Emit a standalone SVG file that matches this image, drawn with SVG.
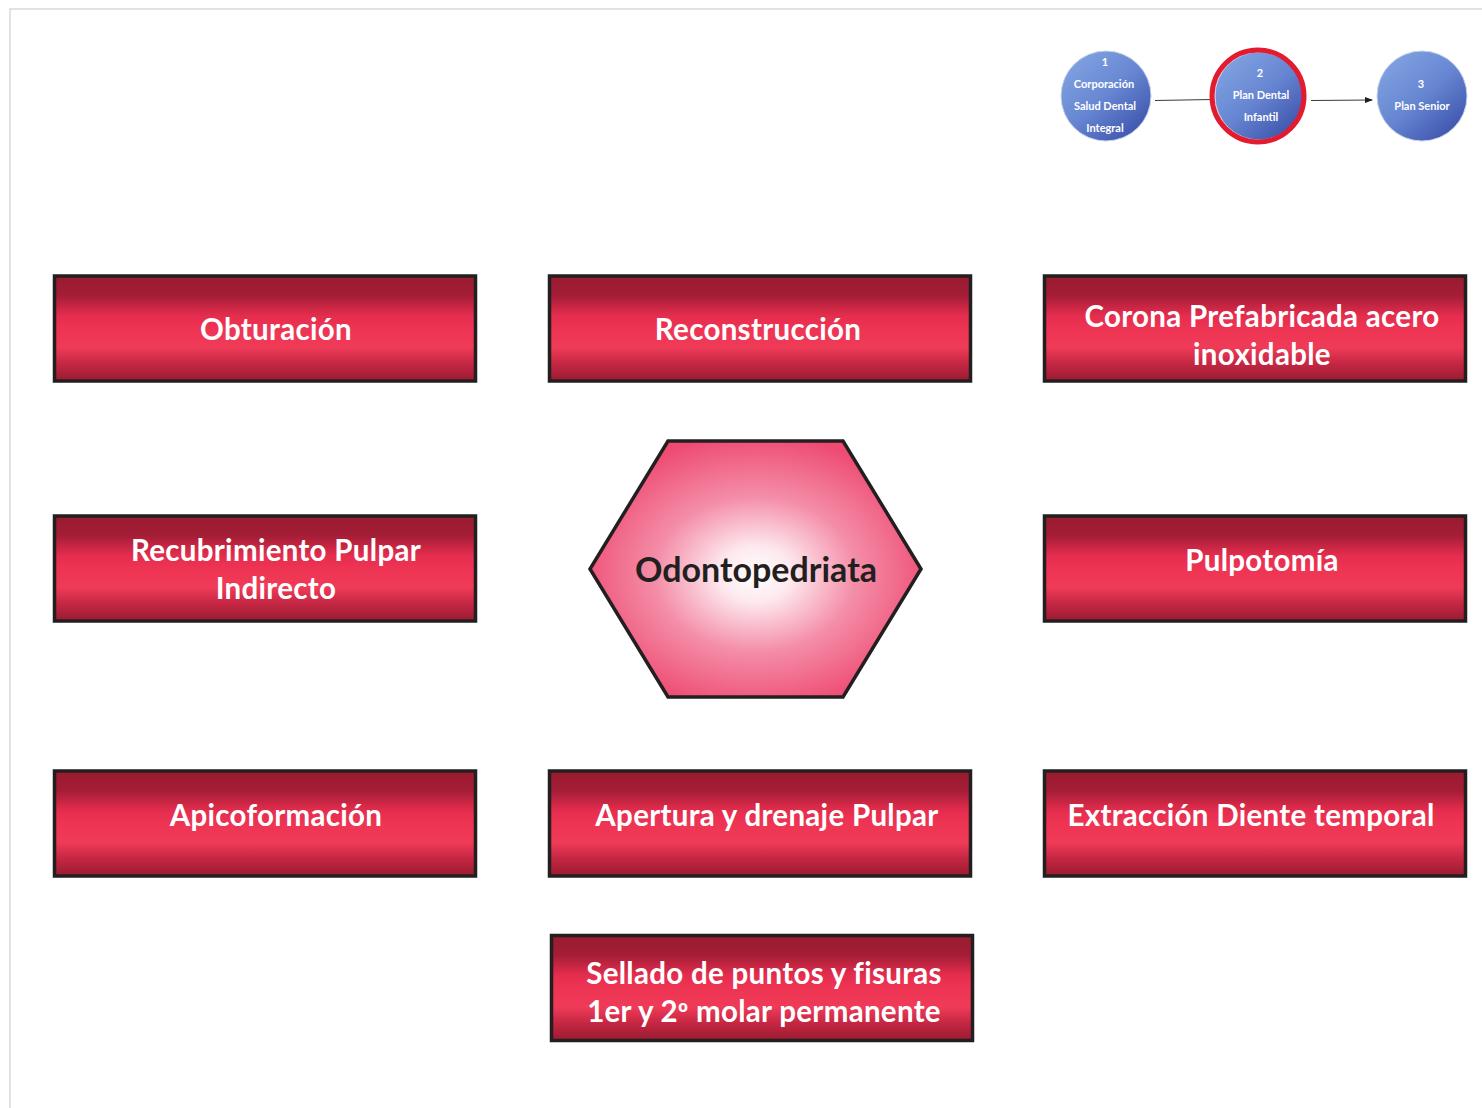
<svg xmlns="http://www.w3.org/2000/svg" width="1482" height="1108" viewBox="0 0 1482 1108">
<defs>
<linearGradient id="boxGrad" x1="0" y1="0" x2="0" y2="1">
<stop offset="0" stop-color="#9a1b30"/>
<stop offset="0.18" stop-color="#a21d35"/>
<stop offset="0.38" stop-color="#e52d4e"/>
<stop offset="0.5" stop-color="#ee3453"/>
<stop offset="0.68" stop-color="#ef3b58"/>
<stop offset="0.84" stop-color="#c32642"/>
<stop offset="1" stop-color="#9a1b30"/>
</linearGradient>
<radialGradient id="hexGrad" cx="0.5" cy="0.52" r="0.55">
<stop offset="0" stop-color="#ffffff"/>
<stop offset="0.2" stop-color="#fde8ee"/>
<stop offset="0.55" stop-color="#f48ea8"/>
<stop offset="1" stop-color="#ee4a72"/>
</radialGradient>
<linearGradient id="circGrad" x1="0.15" y1="0.1" x2="0.85" y2="0.9">
<stop offset="0" stop-color="#7fa0e0"/>
<stop offset="0.5" stop-color="#6786d2"/>
<stop offset="1" stop-color="#3f56ae"/>
</linearGradient>
<marker id="arrow" markerWidth="8" markerHeight="6" refX="7" refY="3" orient="auto" markerUnits="userSpaceOnUse">
<path d="M0,0 L8,3 L0,6 z" fill="#231f20"/>
</marker>
</defs>
<style>
.box{fill:url(#boxGrad);stroke:#231f20;stroke-width:3.5}
.bt{font-family:Lato,"Open Sans",sans-serif;font-weight:bold;font-size:29.5px;fill:#ffffff;text-anchor:middle;font-variant-ligatures:none;letter-spacing:0.3px}
.ct{font-family:Lato,"Open Sans",sans-serif;font-weight:bold;font-size:11px;fill:#ffffff;text-anchor:middle}
.circ{fill:url(#circGrad);stroke:#c9d3ea;stroke-width:1}
.conn{stroke:#3a3a3a;stroke-width:1;fill:none}
</style>
<rect x="0" y="0" width="1482" height="1108" fill="#ffffff"/>
<path d="M10,1108 L10,9 L1482,9" fill="none" stroke="#e2e2e2" stroke-width="2"/>

<g id="connectors">
<line class="conn" x1="1155" y1="100.5" x2="1212" y2="99.5"/>
<line class="conn" x1="1311" y1="100.5" x2="1372" y2="100" marker-end="url(#arrow)"/>
</g>

<g id="step1">
<circle class="circ" cx="1106" cy="96" r="45"/>
<text class="ct" x="1105" y="66">1</text>
<text class="ct" x="1104" y="88">Corporación</text>
<text class="ct" x="1105" y="110">Salud Dental</text>
<text class="ct" x="1105" y="132">Integral</text>
</g>
<g id="step2">
<circle class="circ" cx="1259" cy="96" r="44"/>
<circle cx="1258" cy="96" r="46" fill="none" stroke="#e41a2f" stroke-width="5"/>
<text class="ct" x="1260" y="77">2</text>
<text class="ct" x="1261" y="99">Plan Dental</text>
<text class="ct" x="1261" y="121">Infantil</text>
</g>
<g id="step3">
<circle class="circ" cx="1422" cy="96" r="45"/>
<text class="ct" x="1421" y="88">3</text>
<text class="ct" x="1422" y="110">Plan Senior</text>
</g>

<g id="obturacion">
<rect class="box" x="54.5" y="276" width="421" height="105"/>
<text class="bt" x="276" y="340">Obturación</text>
</g>
<g id="reconstruccion">
<rect class="box" x="549.5" y="276" width="421" height="105"/>
<text class="bt" x="758" y="340">Reconstrucción</text>
</g>
<g id="corona">
<rect class="box" x="1044.5" y="276" width="421" height="105"/>
<text class="bt" x="1262" y="327">Corona Prefabricada acero</text>
<text class="bt" x="1262" y="365">inoxidable</text>
</g>
<g id="recubrimiento">
<rect class="box" x="54.5" y="516" width="421" height="105"/>
<text class="bt" x="276" y="561">Recubrimiento Pulpar</text>
<text class="bt" x="276" y="599">Indirecto</text>
</g>
<g id="odontopedriata">
<polygon points="668,441 843,441 921,569 843,697 668,697 590,569" fill="url(#hexGrad)" stroke="#231f20" stroke-width="3.5" stroke-linejoin="miter"/>
<text x="756" y="582" font-family="Lato,'Open Sans',sans-serif" font-weight="bold" font-size="34" fill="#231f20" text-anchor="middle">Odontopedriata</text>
</g>
<g id="pulpotomia">
<rect class="box" x="1044.5" y="516" width="421" height="105"/>
<text class="bt" x="1262" y="571">Pulpotomía</text>
</g>
<g id="apicoformacion">
<rect class="box" x="54.5" y="771" width="421" height="105"/>
<text class="bt" x="276" y="826">Apicoformación</text>
</g>
<g id="apertura">
<rect class="box" x="549.5" y="771" width="421" height="105"/>
<text class="bt" x="767" y="826">Apertura y drenaje Pulpar</text>
</g>
<g id="extraccion">
<rect class="box" x="1044.5" y="771" width="421" height="105"/>
<text class="bt" x="1251" y="826">Extracción Diente temporal</text>
</g>
<g id="sellado">
<rect class="box" x="551.5" y="935.5" width="421" height="105"/>
<text class="bt" x="764" y="984">Sellado de puntos y fisuras</text>
<text class="bt" x="764" y="1022">1er y 2<tspan font-family="'Open Sans',sans-serif" font-size="26">º</tspan> molar permanente</text>
</g>
</svg>
